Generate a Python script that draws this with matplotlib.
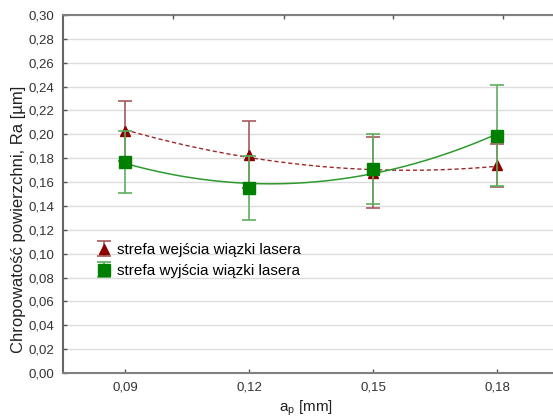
import numpy as np
import matplotlib
matplotlib.use("Agg")
import matplotlib.pyplot as plt

plt.rcParams['font.family'] = ['Liberation Sans', 'DejaVu Sans']

# feed depth a_p [mm] and measured roughness Ra [um] (mean +/- deviation)
ap_labels = ['0,09', '0,12', '0,15', '0,18']
ra_entry = [0.203, 0.183, 0.168, 0.174]
err_entry = [0.025, 0.028, 0.030, 0.018]
ra_exit = [0.177, 0.155, 0.171, 0.199]
err_exit = [0.026, 0.027, 0.029, 0.042]

yticks = np.arange(0, 0.301, 0.02)
top_ticks = [1.39, 2.28, 3.16, 4.05]

W, H = 553, 419
fig = plt.figure(figsize=(W / 100, H / 100), dpi=100)
ax = fig.add_axes([63 / W, 46 / H, (559 - 63) / W, (373 - 15) / H])

x = np.arange(1, len(ap_labels) + 1)
xs = np.linspace(1, len(ap_labels), 200)

# smoothed trend through each series (2nd order fit)
fit_entry = np.polyval(np.polyfit(x, ra_entry, 2), xs)
fit_exit = np.polyval(np.polyfit(x, ra_exit, 2), xs)
ax.plot(xs, fit_entry, color='#9b2a2a', lw=1.0, ls=(0, (3, 2)), zorder=3)
ax.plot(xs, fit_exit, color='#2e9a2e', lw=1.1, zorder=3)

e1 = ax.errorbar(x, ra_entry, yerr=err_entry, fmt='^', color='#8b0000',
                 ecolor='#a45a5a', elinewidth=1.2, capsize=5, capthick=1.2,
                 markersize=7, zorder=4, label='strefa wejścia wiązki lasera')
e2 = ax.errorbar(x, ra_exit, yerr=err_exit, fmt='s', color='#008000',
                 ecolor='#5fae5f', elinewidth=1.2, capsize=5, capthick=1.2,
                 markersize=8, zorder=5, label='strefa wyjścia wiązki lasera')

ax.set_xlim(0.5, 4.5)
ax.set_ylim(0, 0.30)
ax.set_xticks(x)
ax.set_xticklabels(ap_labels)
ax.set_yticks(yticks)
ax.set_yticklabels([f'{v:.2f}'.replace('.', ',') for v in yticks])
ax.yaxis.grid(True, color='#dcdcdc', lw=1.0)
ax.set_axisbelow(True)
ax.tick_params(direction='in', length=3, width=1, color='#555555',
               labelsize=9.5, labelcolor='#333333', pad=6)
ax.tick_params(axis='x', pad=6)

for side in ['left', 'bottom', 'top']:
    ax.spines[side].set_color('#808080')
    ax.spines[side].set_linewidth(1.5)
ax.spines['left'].set_color('#666666')
ax.spines['right'].set_visible(False)

# plain ticks along the upper frame
top = ax.twiny()
top.set_xlim(ax.get_xlim())
top.set_xticks(top_ticks)
top.set_xticklabels([])
top.tick_params(direction='in', length=3, width=1, color='#555555')
for s in top.spines.values():
    s.set_visible(False)

ax.set_ylabel('Chropowatość powierzchni, Ra [µm]', fontsize=12,
              color='#222222')
ax.yaxis.set_label_coords(-37 / (559 - 63), 0.43)
ax.set_xlabel('a$_\\mathregular{p}$ [mm]', fontsize=11, color='#222222')
ax.xaxis.set_label_coords(0.49, -25 / (373 - 15))

ax.legend(handles=[e1, e2], loc='upper left', bbox_to_anchor=(96 / W, 1 - 243 / H),
          bbox_transform=fig.transFigure, frameon=False, fontsize=11,
          handlelength=1.0, handletextpad=0.35, labelspacing=0.45,
          borderaxespad=0, borderpad=0)

fig.savefig('out.png', dpi=100)
